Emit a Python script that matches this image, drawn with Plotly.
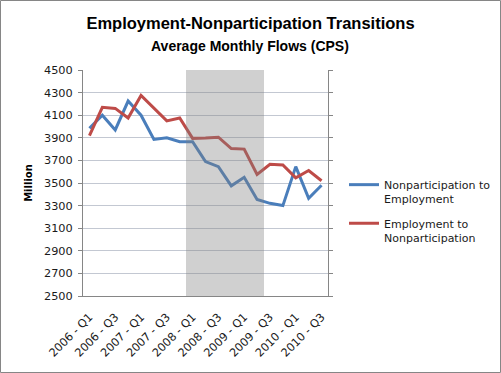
import plotly.graph_objects as go

quarters = ["2006 - Q1", "2006 - Q2", "2006 - Q3", "2006 - Q4",
            "2007 - Q1", "2007 - Q2", "2007 - Q3", "2007 - Q4",
            "2008 - Q1", "2008 - Q2", "2008 - Q3", "2008 - Q4",
            "2009 - Q1", "2009 - Q2", "2009 - Q3", "2009 - Q4",
            "2010 - Q1", "2010 - Q2", "2010 - Q3"]
nonpart_to_emp = [3985, 4100, 3970, 4225, 4100, 3885, 3900, 3865, 3865, 3690,
                  3645, 3475, 3550, 3355, 3320, 3300, 3645, 3365, 3480]
emp_to_nonpart = [3920, 4170, 4160, 4075, 4275, 4160, 4050, 4075, 3895, 3898,
                  3905, 3805, 3800, 3575, 3665, 3660, 3545, 3610, 3520]
recession = [0, 0, 0, 0, 0, 0, 0, 0, 1, 1, 1, 1, 1, 1, 0, 0, 0, 0, 0]
tick_labels = quarters[::2]

TXT = "#1a1a1a"
TFONT = "Liberation Sans Narrow, Arial Narrow, Liberation Sans, sans-serif"
fig = go.Figure()
fig.add_trace(go.Bar(x=quarters, y=recession, yaxis="y2", marker_color="rgba(128,128,128,0.37)",
                     marker_line_width=0, showlegend=False, hoverinfo="skip"))
fig.add_trace(go.Scatter(x=quarters, y=nonpart_to_emp, mode="lines", name="Nonparticipation to<br>Employment",
                         legendgroup="a", line=dict(color="#4A7EBB", width=3)))
fig.add_trace(go.Scatter(x=quarters, y=emp_to_nonpart, mode="lines", name="Employment to<br>Nonparticipation",
                         legendgroup="b", line=dict(color="#BE4B48", width=3)))

fig.update_layout(
    width=501, height=373,
    margin=dict(l=83, r=173, t=70, b=77, autoexpand=False),
    paper_bgcolor="white", plot_bgcolor="white",
    bargap=0,
    font=dict(family="DejaVu Sans, Verdana, sans-serif", size=11, color=TXT),
    title=dict(text="<b>Employment-Nonparticipation Transitions</b>",
               font=dict(family=TFONT, size=16.5, color="black"),
               x=0.5, xref="container", xanchor="center", y=1 - 23 / 373, yanchor="middle"),
    annotations=[dict(text="<b>Average Monthly Flows (CPS)</b>", xref="paper", yref="paper",
                      x=(250 - 83) / 245, y=(296 - 46) / 226, xanchor="center", yanchor="middle",
                      showarrow=False,
                      font=dict(family=TFONT, size=14, color="black"))],
    xaxis=dict(type="category", tickmode="array", tickvals=tick_labels, ticktext=tick_labels,
               tickangle=-45, showline=True, linecolor="#868686", linewidth=1, showgrid=False,
               ticks="", ticklabelstandoff=9, automargin=False, tickfont=dict(size=11.3, color=TXT)),
    yaxis=dict(range=[2500, 4500], tick0=2500, dtick=200, showline=True, linecolor="#868686", linewidth=1,
               gridcolor="#C3C8D2", gridwidth=1, ticks="outside", ticklen=4, tickcolor="#868686",
               ticklabelstandoff=3, zeroline=False,
               automargin=False, tickfont=dict(size=11.3, color=TXT),
               title=dict(text="<b>Million</b>", standoff=9, font=dict(size=10, color="black"))),
    yaxis2=dict(overlaying="y", side="right", range=[0, 1], dtick=0.1, showticklabels=False,
                showline=True, linecolor="#868686", ticks="outside", ticklen=4, tickcolor="#868686",
                showgrid=False, zeroline=False, fixedrange=True, automargin=False),
    legend=dict(x=(344 - 83) / 245, y=(296 - 171) / 226, xanchor="left", yanchor="top",
                valign="top", font=dict(size=11, color=TXT), bgcolor="rgba(0,0,0,0)",
                tracegroupgap=7, itemwidth=30),
    shapes=[dict(type="rect", xref="paper", yref="paper", x0=(0.5 - 83) / 245, x1=(500.5 - 83) / 245,
                 y0=(296 - 372.5) / 226, y1=(296 - 0.5) / 226, line=dict(color="#868686", width=1),
                 fillcolor="rgba(0,0,0,0)", layer="above")],
)

fig.write_html("out.html", config={"displayModeBar": False},
               post_script="document.body.style.margin='0';")
